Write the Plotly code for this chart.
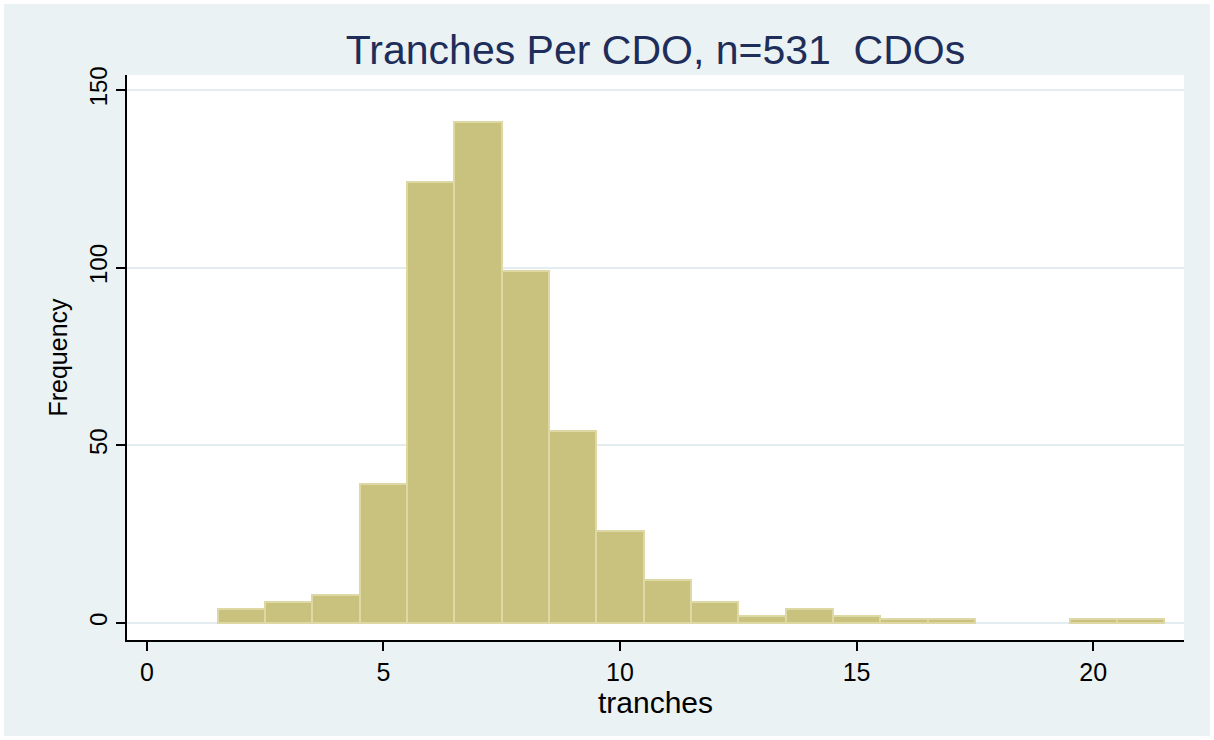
import plotly.graph_objects as go

# Histogram data: bin centers (tranches) and frequencies
tranches = [2, 3, 4, 5, 6, 7, 8, 9, 10, 11, 12, 13, 14, 15, 16, 17, 20, 21]
frequency = [4, 6, 8, 39, 124, 141, 99, 54, 26, 12, 6, 2, 4, 2, 1, 1, 1, 1]
x_ticks = [0, 5, 10, 15, 20]
y_ticks = [0, 50, 100, 150]

W, H = 1214, 740
L, R, T, B = 127, 1184, 75, 640

fig = go.Figure()
fig.add_trace(go.Bar(
    x=tranches, y=frequency, width=1,
    marker=dict(color="#C9C27E", line=dict(color="#DDD8A4", width=2)),
))

fig.update_layout(
    width=W, height=H,
    margin=dict(l=L, r=W - R, t=T, b=H - B, pad=0),
    paper_bgcolor="#EAF2F3",
    plot_bgcolor="white",
    showlegend=False,
    font=dict(family="Liberation Sans, Arial, sans-serif", color="black"),
    title=dict(text="Tranches Per CDO, n=531  CDOs", x=0.5, xref="paper", xanchor="center",
               y=1 - 50 / H, yanchor="middle",
               font=dict(size=41, color="#1E2D5A")),
    xaxis=dict(range=[-0.42, 21.92], tickvals=x_ticks, showgrid=False,
               zeroline=False, showline=True, linecolor="black", linewidth=1.5,
               ticks="outside", ticklen=9, tickcolor="black", tickwidth=1.5,
               tickfont=dict(size=25), title=dict(text="tranches", font=dict(size=30), standoff=2)),
    yaxis=dict(range=[-4.8, 154.2], tickvals=y_ticks, showgrid=True,
               gridcolor="#E3ECEE", gridwidth=1.5, zeroline=False,
               showline=True, linecolor="black", linewidth=1.5,
               ticks="outside", ticklen=9, tickcolor="black", tickwidth=1.5,
               tickangle=-90, tickfont=dict(size=24),
               title=dict(text="Frequency", font=dict(size=25), standoff=10)),
    bargap=0,
)

# white outer frame around the whole image
fig.add_shape(type="rect", xref="paper", yref="paper",
              x0=-L / (R - L), x1=(W - L) / (R - L),
              y0=-(H - B) / (B - T), y1=B / (B - T),
              line=dict(color="white", width=8), fillcolor="rgba(0,0,0,0)", layer="above")

fig.write_html("out.html", config={"displayModeBar": False},
               post_script="document.body.style.margin='0px';")
